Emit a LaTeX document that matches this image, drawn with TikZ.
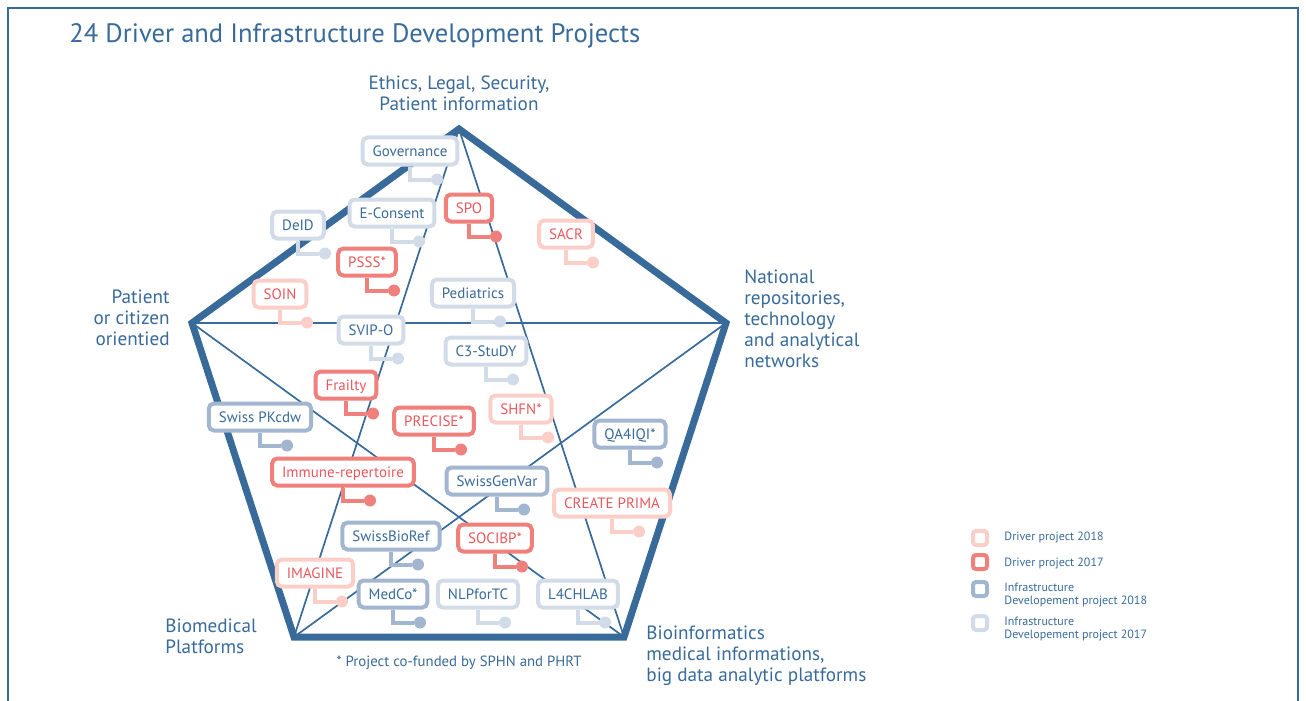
\documentclass[tikz,border=0pt]{standalone}
\usepackage{fontspec}
\setmainfont{PT Sans}
\usetikzlibrary{calc}

\definecolor{sphnblue}{HTML}{386A9A}
\definecolor{drvred}{HTML}{E8585C}
\definecolor{drvnew}{HTML}{FBCFC7}
\definecolor{drvold}{HTML}{EF807B}
\definecolor{infnew}{HTML}{A3B6D0}
\definecolor{infold}{HTML}{D2DBE8}

\tikzset{
  tagbox/.style={draw=#1, line width=2pt, rounded corners=2.5pt, fill=white,
    inner xsep=5pt, inner ysep=0pt, minimum height=13.5pt,
    text height=5.25pt, text depth=0pt, font=\fontsize{7.5}{9}\selectfont},
  tagdot/.style={circle, fill=#1, inner sep=0pt, minimum size=6pt},
  taglink/.style={draw=#1, line width=2pt},
  drv/.style={text=drvred},
  inf/.style={text=sphnblue},
  theme/.style={inner sep=0pt, text=sphnblue, font=\fontsize{9.6}{10.5}\selectfont},
  legtext/.style={inner sep=0pt, anchor=west, align=left, text=sphnblue,
    font=\fontsize{6}{6.6}\selectfont},
  legbox/.style={draw=#1, line width=2pt, rounded corners=1.5pt,
    minimum size=7pt, inner sep=0pt},
}

\begin{document}
\begin{tikzpicture}[x=0.5pt, y=-0.5pt]
  \useasboundingbox (0,0) rectangle (1306,701);
  \draw[sphnblue, line width=0.7pt] (8,720) -- (8,8) -- (1298,8) -- (1298,720);

  \node[theme, anchor=west, font=\fontsize{13.3}{16}\selectfont] (title) at (69,36)
    {24 Driver and Infrastructure Development Projects};

  % pentagon
  \coordinate (top) at (459,129);
  \coordinate (rgt) at (726,323);
  \coordinate (brt) at (624,637);
  \coordinate (blf) at (294,637);
  \coordinate (lft) at (192,323);

  \draw[sphnblue, line width=0.85pt] (top) -- (blf) (top) -- (brt)
    (lft) -- (rgt) (lft) -- (brt) (rgt) -- (blf);
  \draw[sphnblue, line width=3.5pt, line join=miter]
    (top) -- (rgt) -- (brt) -- (blf) -- (lft) -- cycle;

  \node[theme, align=center] (ethics) at (459,93)
    {Ethics, Legal, Security,\\Patient information};
  \node[theme, align=right, anchor=east] (patient) at (170,318)
    {Patient\\or citizen\\orientied};
  \node[theme, align=left, anchor=west] (national) at (744,319)
    {National\\repositories,\\technology\\and analytical\\networks};
  \node[theme, align=left, anchor=west] (biomed) at (165,636)
    {Biomedical\\Platforms};
  \node[theme, align=left, anchor=west] (bioinf) at (646,656)
    {Bioinformatics\\medical informations,\\big data analytic platforms};
  \node[theme, font=\fontsize{7.4}{8.5}\selectfont] (note) at (459,663)
    {* Project co-funded by SPHN and PHRT};

  % projects
  \foreach \nm/\c/\t/\cx/\cy/\txt in {
      gov/infold/inf/410/151/Governance,
      econ/infold/inf/392/213/E-Consent,
      deid/infold/inf/298/225/DeID,
      spo/drvold/drv/469/208/SPO,
      sacr/drvnew/drv/566/234/SACR,
      psss/drvold/drv/367/262/PSSS*,
      soin/drvnew/drv/280/294/SOIN,
      ped/infold/inf/473/293/Pediatrics,
      svip/infold/inf/371/330/SVIP-O,
      cstudy/infold/inf/486/351/C3-StuDY,
      frail/drvold/drv/346/385/Frailty,
      pkcdw/infnew/inf/260/417/Swiss PKcdw,
      immune/drvold/drv/343/472/Immune-repertoire,
      precise/drvold/drv/434/421/PRECISE*,
      shfn/drvnew/drv/521/409/SHFN*,
      genvar/infnew/inf/497/481/SwissGenVar,
      qaiqi/infnew/inf/630/434/QA4IQI*,
      prima/drvnew/drv/612/503/CREATE PRIMA,
      bioref/infnew/inf/391/536/SwissBioRef,
      socibp/drvold/drv/495/538/SOCIBP*,
      imagine/drvnew/drv/315/573/IMAGINE,
      medco/infnew/inf/393/594/MedCo*,
      nlp/infold/inf/478/594/NLPforTC,
      lchlab/infold/inf/578/594/L4CHLAB}
  {
    \node[tagbox=\c, \t] (\nm) at (\cx,\cy) {\txt};
    \node[tagdot=\c] (\nm-dot) at ([shift={(27,13)}]\nm.south) {};
    \draw[taglink=\c] (\nm.south) |- (\nm-dot);
  }

  % legend
  \node[legbox=drvnew] (leg1) at (980,538) {};
  \node[legbox=drvold] (leg2) at (980,562) {};
  \node[legbox=infnew] (leg3) at (980,589) {};
  \node[legbox=infold] (leg4) at (980,623) {};
  \node[legtext] (leg1-txt) at (1004,537) {Driver project 2018};
  \node[legtext] (leg2-txt) at (1004,563) {Driver project 2017};
  \node[legtext] (leg3-txt) at (1004,595) {Infrastructure\\Developement project 2018};
  \node[legtext] (leg4-txt) at (1004,629) {Infrastructure\\Developement project 2017};
\end{tikzpicture}
\end{document}
